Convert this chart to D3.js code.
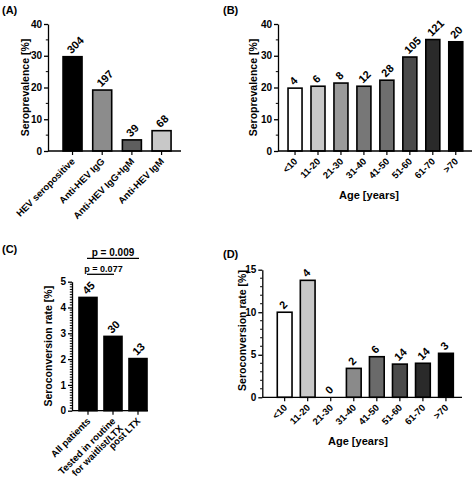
<!DOCTYPE html>
<html><head><meta charset="utf-8">
<script src="https://cdn.jsdelivr.net/npm/d3@7"></script>
<style>
body{margin:0;background:#fff;}
svg{display:block;font-family:"Liberation Sans",Arial,sans-serif;font-weight:bold;}
</style></head>
<body><svg id="c" width="474" height="481"></svg>
<script>
// ---- data ----
const catsA = ["HEV seropositive","Anti-HEV IgG","Anti-HEV IgG+IgM","Anti-HEV IgM"];
const valsA = [29.7, 19.2, 3.5, 6.4];
const countsA = [304, 197, 39, 68];
const colorsA = ["#000000","#8c8c8c","#5e5e5e","#c8c8c8"];

const ageCats = ["<10","11-20","21-30","31-40","41-50","51-60","61-70",">70"];
const valsB = [19.8, 20.4, 21.4, 20.4, 22.3, 29.6, 35.1, 34.4];
const countsB = [4, 6, 8, 12, 28, 105, 121, 20];
const colorsB = ["#ffffff","#c8c8c8","#9a9a9a","#777777","#6e6e6e","#4a4a4a","#2a2a2a","#000000"];

const catsC = ["All patients","Tested in routine\nfor waitlist/LTX","post LTX"];
const valsC = [4.39, 2.88, 2.02];
const countsC = [45, 30, 13];
const colorsC = ["#000000","#000000","#000000"];
const pValues = [{a:0,b:1,label:"p = 0.077"},{a:0,b:2,label:"p = 0.009"}];

const valsD = [10.0, 13.75, 0, 3.4, 4.77, 3.9, 4.0, 5.17];
const countsD = [2, 4, 0, 2, 6, 14, 14, 3];
const colorsD = ["#ffffff","#c8c8c8","#aaaaaa","#8a8a8a","#6a6a6a","#4a4a4a","#2a2a2a","#000000"];

const ticksAB = [0,10,20,30,40];
const ticksC = [0,1,2,3,4,5];
const ticksD = [0,5,10,15];

const svg = d3.select("#c");

function panel(o){
  const g = svg.append("g");
  const y = d3.scaleLinear().domain(o.ydom).range([o.y0, o.y1]);
  const x = d3.scaleBand().domain(o.cats).range(o.xr).paddingInner(o.pi).paddingOuter(o.po);
  const cxOf = c => x(c) + x.bandwidth()/2;
  // bars
  g.selectAll("rect.bar").data(o.cats).join("rect").attr("class","bar")
    .attr("x", d=>x(d)).attr("width", x.bandwidth())
    .attr("y", (d,i)=>y(o.vals[i])).attr("height",(d,i)=>y(0)-y(o.vals[i]))
    .attr("fill",(d,i)=>o.colors[i]).attr("stroke","#000").attr("stroke-width",(d,i)=>o.vals[i]>0?1.6:0);
  // y axis
  const ya = d3.axisLeft(y).tickValues(o.ticks).tickFormat(d3.format("d")).tickSize(4).tickPadding(2).tickSizeOuter(0);
  const yg = g.append("g").attr("transform",`translate(${o.ax},0)`).call(ya);
  yg.selectAll("text").attr("font-size",10).attr("font-weight","bold").attr("font-family","Liberation Sans, Arial, sans-serif").attr("fill","#000");
  yg.select(".domain").attr("stroke-width",1.3);
  yg.selectAll(".tick line").attr("stroke-width",1.3);
  const minor = d3.range(o.ydom[0], o.ydom[1]+1e-9, o.minor).filter(v=>!o.ticks.some(t=>Math.abs(t-v)<1e-6));
  g.selectAll("line.minor").data(minor).join("line").attr("class","minor")
    .attr("x1",o.ax-2.2).attr("x2",o.ax).attr("y1",d=>y(d)).attr("y2",d=>y(d))
    .attr("stroke","#000").attr("stroke-width",1);
  // x axis line
  g.append("line").attr("x1",o.ax).attr("x2",o.axEnd).attr("y1",y(0)).attr("y2",y(0)).attr("stroke","#000").attr("stroke-width",1.3);
  g.selectAll("line.xt").data(o.cats).join("line").attr("class","xt")
    .attr("x1",cxOf).attr("x2",cxOf)
    .attr("y1",y(0)).attr("y2",y(0)+4).attr("stroke","#000").attr("stroke-width",1.2);
  // x tick labels
  g.selectAll("text.xl").data(o.cats).join("text").attr("class","xl")
    .attr("text-anchor","end").attr("font-size",o.xfs)
    .attr("x",d=>cxOf(d)+3).attr("y",y(0)+11)
    .attr("transform",d=>`rotate(-45 ${cxOf(d)+3} ${y(0)+11})`)
    .each(function(d){
      const t = d3.select(this), px = cxOf(d)+3;
      d.split("\n").forEach((ln,k)=>t.append("tspan").attr("x",px).attr("dy",k?"1.1em":0).text(ln));
    });
  // counts
  g.selectAll("text.cnt").data(o.cats).join("text").attr("class","cnt")
    .attr("font-size",11).attr("text-anchor","start")
    .attr("x",d=>cxOf(d)-1).attr("y",(d,i)=>y(o.vals[i])-2.5)
    .attr("transform",(d,i)=>`rotate(-45 ${cxOf(d)-1} ${y(o.vals[i])-2.5})`)
    .text((d,i)=>o.counts[i]);
  // y title
  g.append("text").attr("font-size",10.5).attr("text-anchor","middle")
    .attr("transform",`translate(${o.ytx},${(o.y0+o.y1)/2+o.ytdy}) rotate(-90)`).text(o.ytitle);
  if(o.xtitle) g.append("text").attr("font-size",11).attr("text-anchor","middle")
    .attr("x",o.xtx).attr("y",o.xty).text(o.xtitle);
  g.append("text").attr("font-size",11).attr("x",o.lx).attr("y",o.ly).text(o.letter);
  return {x,y,g};
}

panel({cats:catsA, vals:valsA, counts:countsA, colors:colorsA, ydom:[0,40], y0:151, y1:24,
  xr:[48.2,185.9], pi:0.36, po:0.5, ax:48, axEnd:181, ticks:ticksAB, minor:5, xfs:9.5,
  ytitle:"Seroprevalence [%]", ytx:29, ytdy:0, letter:"(A)", lx:2, ly:14});

panel({cats:ageCats, vals:valsB, counts:countsB, colors:colorsB, ydom:[0,40], y0:151, y1:24,
  xr:[277.7,473.1], pi:0.39, po:0.45, ax:278, axEnd:472, ticks:ticksAB, minor:5, xfs:9.5,
  ytitle:"Seroprevalence [%]", ytx:257, ytdy:0, xtitle:"Age [years]", xtx:369, xty:199,
  letter:"(B)", lx:223, ly:14});

const pc = panel({cats:catsC, vals:valsC, counts:countsC, colors:colorsC, ydom:[0,5], y0:410.7, y1:281.7,
  xr:[72,154], pi:0.28, po:0.28, ax:72, axEnd:148, ticks:ticksC, minor:0.1, xfs:9.5,
  ytitle:"Seroconversion rate [%]", ytx:52, ytdy:0, letter:"(C)", lx:2, ly:253});
// significance brackets
const pY = [274.3, 258.3];
const pFs = [9, 10];
pValues.forEach((p,k)=>{
  const xa = pc.x(catsC[p.a])+pc.x.bandwidth()/2, xb = pc.x(catsC[p.b])+pc.x.bandwidth()/2;
  pc.g.append("line").attr("x1",xa-1).attr("x2",xb+1).attr("y1",pY[k]).attr("y2",pY[k]).attr("stroke","#000").attr("stroke-width",1.3);
  pc.g.append("text").attr("font-size",pFs[k]).attr("text-anchor","middle")
    .attr("x",(xa+xb)/2+(k?0:3)).attr("y",pY[k]-2.5).text(p.label);
});

panel({cats:ageCats, vals:valsD, counts:countsD, colors:colorsD, ydom:[0,15], y0:397.3, y1:269.7,
  xr:[262.3,468.3], pi:0.36, po:0.65, ax:262.3, axEnd:462, ticks:ticksD, minor:1, xfs:9.5,
  ytitle:"Seroconversion rate [%]", ytx:245.5, ytdy:-3, xtitle:"Age [years]", xtx:358, xty:445,
  letter:"(D)", lx:223, ly:258});
</script></body></html>
